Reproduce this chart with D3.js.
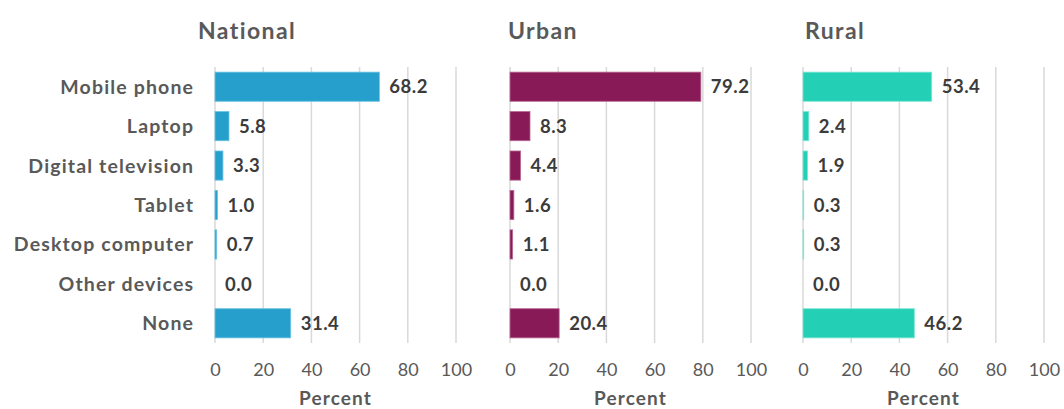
<!DOCTYPE html>
<html>
<head>
<meta charset="utf-8">
<script src="https://d3js.org/d3.v7.min.js"></script>
<style>
	body { margin: 0; background: #ffffff; }
	svg { display: block; font-family: "Lato", "DejaVu Sans", sans-serif; }
</style>
</head>
<body>
<svg id="canvas" width="1064" height="409"></svg>
<script>
var categories = ["Mobile phone", "Laptop", "Digital television", "Tablet", "Desktop computer", "Other devices", "None"];
var national = [68.2, 5.8, 3.3, 1.0, 0.7, 0.0, 31.4];
var urban = [79.2, 8.3, 4.4, 1.6, 1.1, 0.0, 20.4];
var rural = [53.4, 2.4, 1.9, 0.3, 0.3, 0.0, 46.2];
var panelTitles = ["National", "Urban", "Rural"];
var tickValues = [0, 20, 40, 60, 80, 100];
var axisTitle = "Percent";

function draw(){
	var svg = d3.select("#canvas");
	var panels = [
		{title: panelTitles[0], values: national, left: 215, titleX: 198, color: "#279fcc", edge: "#6cc3e3"},
		{title: panelTitles[1], values: urban, left: 510, titleX: 508, color: "#881a57", edge: "#b86a95"},
		{title: panelTitles[2], values: rural, left: 803, titleX: 805, color: "#23d0b6", edge: "#7fe6d6"}
	];
	var top = 67;
	var bottom = 343;
	var panelWidth = 241;

	var y = d3.scaleBand()
		.domain(categories)
		.range([top, bottom])
		.paddingInner(0.26)
		.paddingOuter(0.13);

	// category labels on the left
	svg.append("g")
		.selectAll("text")
		.data(categories)
		.enter()
		.append("text")
			.attr("x", 194.2)
			.attr("y", function(d){ return y(d) + y.bandwidth() / 2; })
			.attr("dy", "0.36em")
			.attr("text-anchor", "end")
			.attr("fill", "#595959")
			.attr("font-size", 19.5)
			.attr("font-weight", "bold")
			.attr("letter-spacing", 1.15)
			.text(function(d){ return d; });

	panels.forEach(function(p){
		var x = d3.scaleLinear()
			.domain([0, 100])
			.range([p.left, p.left + panelWidth]);
		var rows = p.values.map(function(v, i){
			return {cat: categories[i], v: v};
		});
		var g = svg.append("g");

		g.append("text")
			.attr("x", p.titleX)
			.attr("y", 39)
			.attr("fill", "#595959")
			.attr("font-size", 23)
			.attr("font-weight", "bold")
			.attr("letter-spacing", 1.4)
			.text(p.title);

		// gridlines
		g.selectAll("line.grid")
			.data(tickValues)
			.enter()
			.append("line")
				.attr("class", "grid")
				.attr("x1", function(d){ return x(d); })
				.attr("x2", function(d){ return x(d); })
				.attr("y1", top)
				.attr("y2", bottom)
				.attr("stroke", "#d9d9d9")
				.attr("stroke-width", 1.5);

		// bars
		g.selectAll("rect")
			.data(rows.filter(function(d){ return d.v > 0; }))
			.enter()
			.append("rect")
				.attr("x", x(0))
				.attr("y", function(d){ return y(d.cat); })
				.attr("width", function(d){ return x(d.v) - x(0); })
				.attr("height", y.bandwidth())
				.attr("fill", p.color)
				.attr("stroke", p.edge)
				.attr("stroke-width", 0.8);

		// value labels
		g.selectAll("text.val")
			.data(rows)
			.enter()
			.append("text")
				.attr("class", "val")
				.attr("x", function(d){ return x(d.v) + 10; })
				.attr("y", function(d){ return y(d.cat) + y.bandwidth() / 2; })
				.attr("dy", "0.36em")
				.attr("fill", "#3b3b3b")
				.attr("font-size", 18.5)
				.attr("font-weight", "bold")
				.attr("letter-spacing", 0.5)
				.text(function(d){ return d.v.toFixed(1); });

		// x axis
		var axis = g.append("g")
			.attr("transform", "translate(0," + bottom + ")")
			.call(d3.axisBottom(x).tickValues(tickValues).tickSize(0).tickPadding(20));
		axis.select(".domain").remove();
		axis.selectAll("text")
			.attr("fill", "#595959")
			.attr("font-size", 18)
			.attr("font-family", "Lato, sans-serif");

		g.append("text")
			.attr("x", x(50))
			.attr("y", 404.5)
			.attr("text-anchor", "middle")
			.attr("fill", "#595959")
			.attr("font-size", 19)
			.attr("font-weight", "bold")
			.attr("letter-spacing", 1.1)
			.text(axisTitle);
	});
}

draw();
</script>
</body>
</html>
